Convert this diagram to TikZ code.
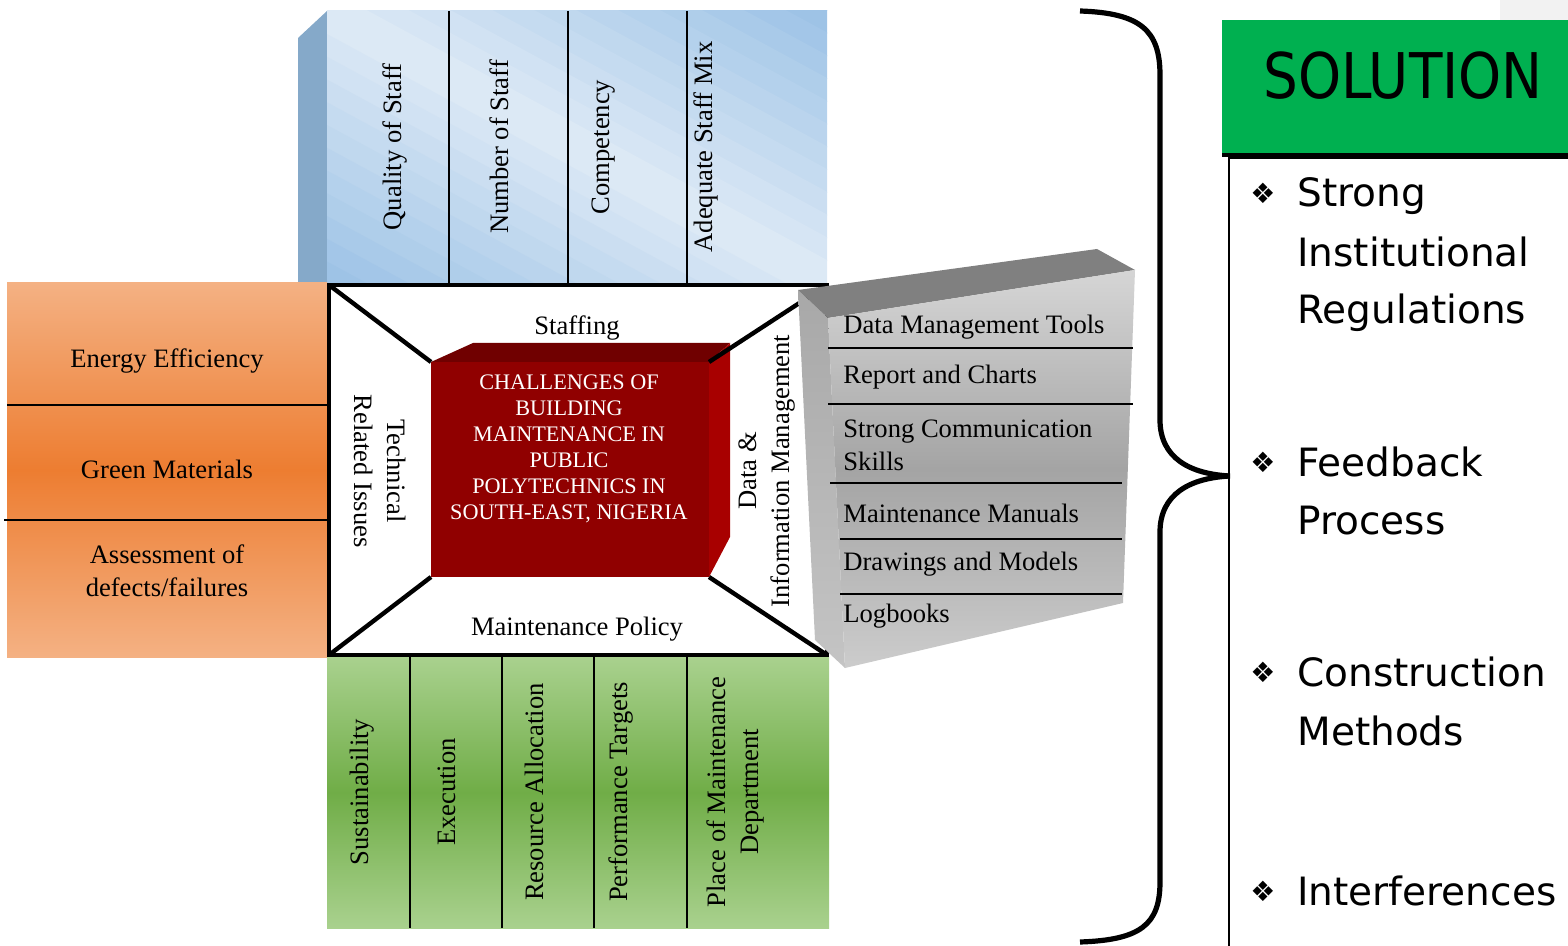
\documentclass[tikz,border=0pt]{standalone}
\usepackage{fontspec}
\setmainfont{Liberation Serif}
\newfontfamily\solfont[FakeStretch=0.87]{DejaVu Sans}
\newfontfamily\bulfont{DejaVu Sans}
\definecolor{bluelight}{HTML}{DFEAF6}
\definecolor{bluedark}{HTML}{9DC3E6}
\definecolor{blueside}{HTML}{85A9C9}
\definecolor{orlight}{HTML}{F4B183}
\definecolor{ordark}{HTML}{ED7D31}
\definecolor{grlight}{HTML}{A9D18E}
\definecolor{grdark}{HTML}{70AD47}
\definecolor{redfront}{HTML}{900000}
\definecolor{redtop}{HTML}{700000}
\definecolor{redside}{HTML}{A80000}
\definecolor{solgreen}{HTML}{00B050}
\definecolor{cornergray}{HTML}{F2F2F2}
\definecolor{gtop}{HTML}{808080}
\definecolor{gfrontA}{HTML}{D6D6D6}
\definecolor{gfrontB}{HTML}{A4A4A4}
\definecolor{gfrontC}{HTML}{CCCCCC}
\definecolor{gsideA}{HTML}{A8A8A8}
\definecolor{gsideB}{HTML}{C4C4C4}
\tikzset{
  lbl/.style={font=\fontsize{13.3}{16.5}\selectfont, inner sep=0pt, align=center},
  lblv/.style={lbl, rotate=90},
  ctr/.style={font=\fontsize{11.1}{13}\selectfont, text=white, align=center, inner sep=0pt},
  gl/.style={font=\fontsize{13.3}{16.5}\selectfont, anchor=west, align=left, inner sep=0pt},
  bultxt/.style={font=\bulfont\fontsize{19.5}{29}\selectfont, anchor=base west, inner sep=0pt},
  bulmark/.style={font=\bulfont\fontsize{14}{16}\selectfont, anchor=center, inner sep=0pt},
  divider/.style={line width=1pt},
  framestroke/.style={line width=2.2pt},
  diag/.style={line width=2.2pt},
}
\begin{document}
\begin{tikzpicture}[x=0.5pt,y=-0.5pt]
\useasboundingbox (0,0) rectangle (1568,946);
\fill[cornergray] (1500,0) rectangle (1568,20);

% ---------- top blue block (Staffing)
\fill[blueside] (298,38) -- (327,11) -- (327,283) -- (298,283) -- cycle;
\begin{scope}
  \clip (327,11) rectangle (827,283);
  \foreach \k in {-13,...,12} {
    \pgfmathtruncatemacro\pct{min(100,abs(20*\k+10)/2.3)}
    \fill[bluedark!\pct!bluelight, shift={(577,147)}, rotate=-28.5] (-400,20*\k) rectangle (400,20*\k+21);
  }
\end{scope}
\foreach \xx in {449,568,687} \draw[divider] (\xx,11) -- (\xx,283);
\node[lblv] (s1) at (395,147) {Quality of Staff};
\node[lblv] (s2) at (499,147) {Number of Staff};
\node[lblv] (s3) at (604,147) {Competency};
\node[lblv] (s4) at (706,147) {Adequate Staff Mix};

% ---------- left orange block (Technical)
\shade[top color=orlight, bottom color=orlight, middle color=ordark] (7,283) rectangle (327,657);
\draw[divider] (7,405) -- (327,405);
\draw[divider] (4,520) -- (327,520);
\node[lbl] (t1) at (167,361) {Energy Efficiency};
\node[lbl] (t2) at (167,469) {Green Materials};
\node[lbl] (t3) at (167,571) {Assessment of\\defects/failures};

% ---------- bottom green block (Maintenance Policy)
\shade[top color=grlight, bottom color=grlight, middle color=grdark] (327,657) rectangle (829,928);
\foreach \xx in {410,502,594,687} \draw[divider] (\xx,657) -- (\xx,928);
\node[lblv] (p1) at (362,792) {Sustainability};
\node[lblv] (p2) at (447,792) {Execution};
\node[lblv] (p3) at (534,792) {Resource Allocation};
\node[lblv] (p4) at (621,792) {Performance Targets};
\node[lblv] (p5) at (735,792) {Place of Maintenance\\Department};

% ---------- central frame
\coordinate (fTL) at (329,285);
\coordinate (fTR) at (827,285);
\coordinate (fBR) at (827,655);
\coordinate (fBL) at (329,655);
\fill[white] (fTL) rectangle (fBR);
\draw[framestroke] (fTL) -- (fTR) -- (fBR) -- (fBL) -- cycle;

% red core box
\coordinate (cTL) at (431,362);
\coordinate (cTR) at (709,362);
\coordinate (cBR) at (709,577);
\coordinate (cBL) at (431,577);
\fill[redtop] (cTL) -- (473,343) -- (730,343) -- (cTR) -- cycle;
\fill[redside] (cTR) -- (730,343) -- (730,537) -- (cBR) -- cycle;
\fill[redfront] (cTL) rectangle (cBR);
\node[ctr] (core) at (569,449) {CHALLENGES OF\\BUILDING\\MAINTENANCE IN\\PUBLIC\\POLYTECHNICS IN\\SOUTH-EAST, NIGERIA};

\draw[diag] (fTL) -- (cTL);
\draw[diag] (fTR) -- (cTR);
\draw[diag] (fBL) -- (cBL);
\draw[diag] (fBR) -- (cBR);

\node[lbl] (staffing) at (577,328) {Staffing};
\node[lbl] (policy) at (577,629) {Maintenance Policy};
\node[lbl, rotate=-90] (technical) at (380,471) {Technical\\Related Issues};
\node[lblv] (datainfo) at (767,471) {Data \&\\Information Management};

% ---------- right grey 3D box (Data & Information)
\shade[top color=gsideA, bottom color=gsideB] (798,290) -- (828,318) -- (845,668) -- (815,640) -- cycle;
\fill[gtop] (798,290) -- (1097,249) -- (1135,270) -- (828,318) -- cycle;
\shade[top color=gfrontA, bottom color=gfrontC, middle color=gfrontB] (828,318) -- (1135,270) -- (1123,603) -- (845,668) -- cycle;
\draw[divider] (828,348) -- (1133,348);
\draw[divider] (828,404) -- (1133,404);
\draw[divider] (830,483) -- (1122,483);
\draw[divider] (840,539) -- (1122,539);
\draw[divider] (840,594) -- (1122,594);
\node[gl] (d1) at (843,327) {Data Management Tools};
\node[gl] (d2) at (843,377) {Report and Charts};
\node[gl] (d3) at (843,445) {Strong Communication\\Skills};
\node[gl] (d4) at (843,513) {Maintenance Manuals};
\node[gl] (d5) at (843,564) {Drawings and Models};
\node[gl] (d6) at (843,616) {Logbooks};

% ---------- brace
\draw[line width=2.6pt] (1080,11) .. controls (1140,13) and (1160,30) .. (1160,75)
  -- (1160,420) .. controls (1160,458) and (1190,474) .. (1230,476)
  .. controls (1190,478) and (1160,494) .. (1160,532)
  -- (1160,882) .. controls (1160,925) and (1140,940) .. (1080,942);

% ---------- solution panel
\fill[solgreen] (1222,20) rectangle (1568,154);
\draw[line width=1.6pt] (1222,155) -- (1568,155);
\draw[line width=0.6pt] (1229,946) -- (1229,158) -- (1568,158);
\node[font=\solfont\fontsize{31.5}{36}\selectfont, inner sep=0pt] (sol) at (1403,76) {SOLUTION};

\node[bulmark] (m1) at (1263,193) {❖};
\node[bultxt] (i1a) at (1297,207) {Strong};
\node[bultxt] (i1b) at (1297,267) {Institutional};
\node[bultxt] (i1c) at (1297,324) {Regulations};
\node[bulmark] (m2) at (1263,462) {❖};
\node[bultxt] (i2a) at (1297,476) {Feedback};
\node[bultxt] (i2b) at (1297,534) {Process};
\node[bulmark] (m3) at (1263,672) {❖};
\node[bultxt] (i3a) at (1297,686) {Construction};
\node[bultxt] (i3b) at (1297,745) {Methods};
\node[bulmark] (m4) at (1263,891) {❖};
\node[bultxt] (i4a) at (1297,905) {Interferences};
\end{tikzpicture}
\end{document}
